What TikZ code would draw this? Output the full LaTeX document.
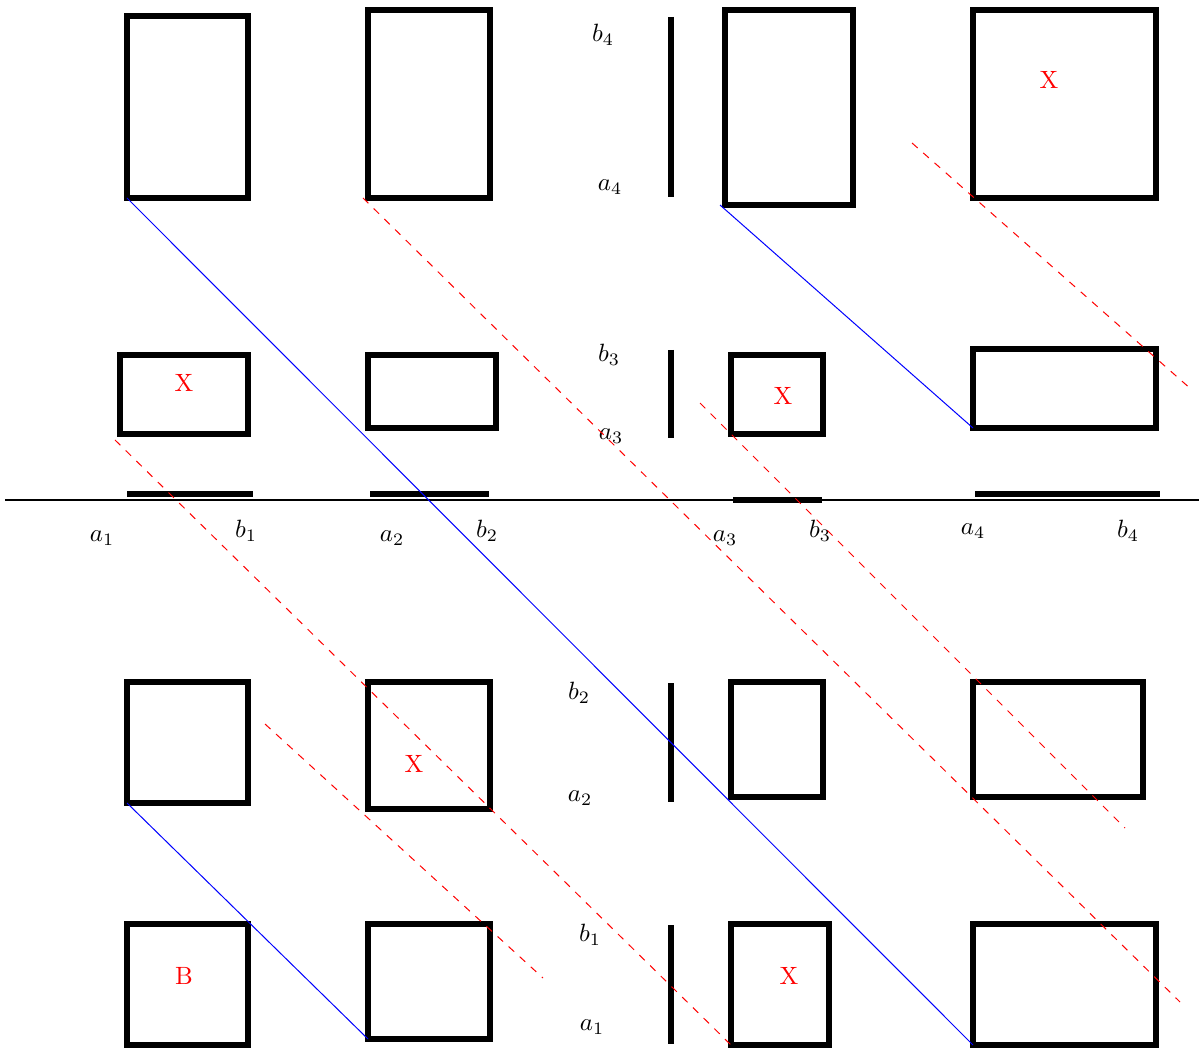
\documentclass[tikz,border=0pt]{standalone}
\usepackage{tikz}
\usetikzlibrary{positioning}

\begin{document}
\begin{tikzpicture}[
    x=0.4pt, y=-0.4pt,
    blk/.style={draw, line width=2.4pt},
    bar/.style={line width=2.4pt},
    axis/.style={line width=0.8pt},
    bluelink/.style={blue, thin},
    redlink/.style={red, dashed, thin},
    lbl/.style={inner sep=1pt},
    tag/.style={red, inner sep=1pt}
]
\useasboundingbox (0,0) rectangle (1199,1050);

% boxes, top row
\draw[blk] (127,16) coordinate (t1nw) rectangle (248,198) coordinate (t1se);
\draw[blk] (368,10) coordinate (t2nw) rectangle (490,198) coordinate (t2se);
\draw[blk] (725,10) coordinate (t3nw) rectangle (853,205) coordinate (t3se);
\draw[blk] (973,10) coordinate (t4nw) rectangle (1156,198) coordinate (t4se);
% second row
\draw[blk] (120,355) coordinate (m1nw) rectangle (248,434) coordinate (m1se);
\draw[blk] (368,355) coordinate (m2nw) rectangle (496,428) coordinate (m2se);
\draw[blk] (731,355) coordinate (m3nw) rectangle (823,434) coordinate (m3se);
\draw[blk] (973,349) coordinate (m4nw) rectangle (1156,428) coordinate (m4se);
% below the axis
\draw[blk] (127,682) coordinate (u1nw) rectangle (248,803) coordinate (u1se);
\draw[blk] (368,682) coordinate (u2nw) rectangle (490,809) coordinate (u2se);
\draw[blk] (731,682) coordinate (u3nw) rectangle (823,797) coordinate (u3se);
\draw[blk] (973,682) coordinate (u4nw) rectangle (1143,797) coordinate (u4se);
\draw[blk] (127,924) coordinate (w1nw) rectangle (248,1045) coordinate (w1se);
\draw[blk] (368,924) coordinate (w2nw) rectangle (490,1039) coordinate (w2se);
\draw[blk] (731,924) coordinate (w3nw) rectangle (829,1045) coordinate (w3se);
\draw[blk] (973,924) coordinate (w4nw) rectangle (1156,1045) coordinate (w4se);

% vertical intervals
\draw[bar] (671,17) -- (671,197);
\draw[bar] (671,350) -- (671,438);
\draw[bar] (671,683) -- (671,802);
\draw[bar] (671,925) -- (671,1044);

% axis and horizontal intervals
\draw[axis] (5,500) -- (1199,500);
\draw[bar] (127,494) -- (253,494);
\draw[bar] (370,494) -- (489,494);
\draw[bar] (733,500) -- (822,500);
\draw[bar] (975,494) -- (1160,494);

% labels on the axis
\node[lbl] (xa1) at (102,538) {$a_1$};
\node[lbl] (xb1) at (246,531) {$b_1$};
\node[lbl] (xa2) at (392,538) {$a_2$};
\node[lbl] (xb2) at (487,531) {$b_2$};
\node[lbl] (xa3) at (725,538) {$a_3$};
\node[lbl] (xb3) at (820,531) {$b_3$};
\node[lbl] (xa4) at (973,531) {$a_4$};
\node[lbl] (xb4) at (1128,531) {$b_4$};

% labels on the vertical intervals
\node[lbl] (yb4) at (603,35) {$b_4$};
\node[lbl] (ya4) at (610,187) {$a_4$};
\node[lbl] (yb3) at (609,355) {$b_3$};
\node[lbl] (ya3) at (611,436) {$a_3$};
\node[lbl] (yb2) at (579,693) {$b_2$};
\node[lbl] (ya2) at (580,798) {$a_2$};
\node[lbl] (yb1) at (590,935) {$b_1$};
\node[lbl] (ya1) at (592,1027) {$a_1$};

% marks
\node[tag] (x44) at (1049,80) {X};
\node[tag] (x31) at (184,383) {X};
\node[tag] (x33) at (783,396) {X};
\node[tag] (x22) at (414,764) {X};
\node[tag] (x13) at (789,976) {X};
\node[tag] (b11) at (184,976) {B};

% free ends of the diagonals
\coordinate (r1s) at (912,143);
\coordinate (r1e) at (1192,390);
\coordinate (r2s) at (363,198);
\coordinate (r2e) at (1180,1002);
\coordinate (r3s) at (700,403);
\coordinate (r3e) at (1125,828);
\coordinate (r4s) at (115,440);
\coordinate (r5s) at (265,724);
\coordinate (r5e) at (543,978);
\coordinate (k2s) at (720,205);

% diagonals
\draw[bluelink] (t1nw |- t1se) -- (w4nw |- w4se);
\draw[bluelink] (k2s) -- (m4nw |- m4se);
\draw[bluelink] (u1nw |- u1se) -- (w2nw |- w2se);

\draw[redlink] (r1s) -- (r1e);
\draw[redlink] (r2s) -- (r2e);
\draw[redlink] (r3s) -- (r3e);
\draw[redlink] (r4s) -- (w3nw |- w3se);
\draw[redlink] (r5s) -- (r5e);
\end{tikzpicture}
\end{document}
